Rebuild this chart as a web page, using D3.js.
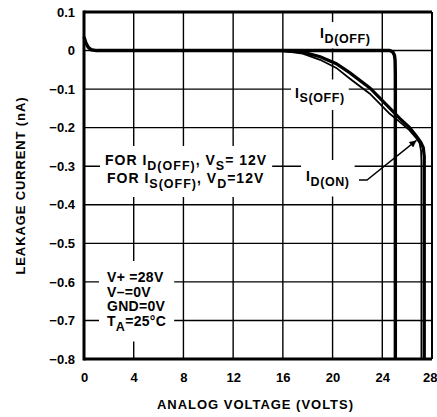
<!DOCTYPE html>
<html>
<head>
<meta charset="utf-8">
<script src="https://cdn.jsdelivr.net/npm/d3@7"></script>
<style>
  body { margin: 0; background: #fff; }
  text { font-family: "Liberation Sans", Arial, sans-serif; fill: #000; }
</style>
</head>
<body>
<div id="chart"></div>
<script>
// axis ticks
const xTicks = [0, 4, 8, 12, 16, 20, 24, 28]
const yTicks = [0.1, 0, -0.1, -0.2, -0.3, -0.4, -0.5, -0.6, -0.7, -0.8]

// I_D(OFF)
const idOffV = [0, 0.15, 0.35, 0.6, 1.0, 8, 16, 24.6, 24.85, 24.98, 25.03, 25.05, 25.05]
const idOffI = [0.035, 0.02, 0.008, 0.002, 0, 0, 0, 0, -0.004, -0.012, -0.025, -0.06, -0.8]

// I_D(ON)
const idOnV = [12, 15.8, 17.0, 17.6, 19.0, 20.3, 21.4, 23.0, 24.6, 25.4, 26.2, 26.75, 27.1, 27.3, 27.38, 27.38]
const idOnI = [0, 0, -0.002, -0.004, -0.016, -0.034, -0.058, -0.097, -0.149, -0.176, -0.2, -0.222, -0.238, -0.252, -0.275, -0.8]

// I_S(OFF)
const isOffV = [12, 15.8, 17.6, 19.0, 20.3, 21.4, 23.0, 24.6, 25.4, 26.2, 26.75, 27.0, 27.12, 27.15, 27.15]
const isOffI = [0, 0, -0.008, -0.024, -0.045, -0.073, -0.112, -0.164, -0.185, -0.207, -0.228, -0.24, -0.26, -0.29, -0.8]

const W = 437, H = 417

const svg = d3.select('#chart')
  .append('svg')
  .attr('width', W)
  .attr('height', H)

const x = d3.scaleLinear().domain([0, 28]).range([84, 432])
const y = d3.scaleLinear().domain([-0.8, 0.1]).range([359, 12])

// grid
svg.append('g')
  .selectAll('line')
  .data(xTicks.slice(1, -1))
  .enter()
  .append('line')
  .attr('x1', d => x(d)).attr('x2', d => x(d))
  .attr('y1', y(0.1)).attr('y2', y(-0.8))
  .attr('stroke', '#000').attr('stroke-width', 1.4)

svg.append('g')
  .selectAll('line')
  .data(yTicks.slice(1, -1))
  .enter()
  .append('line')
  .attr('x1', x(0)).attr('x2', x(28))
  .attr('y1', d => y(d)).attr('y2', d => y(d))
  .attr('stroke', '#000').attr('stroke-width', 1.4)

// white boxes behind annotations go here
const bg = svg.append('g')

// curves
const line = d3.line().x(d => x(d[0])).y(d => y(d[1]))
const zip = (a, b) => a.map((v, i) => [v, b[i]])

svg.append('path')
  .attr('d', line(zip(isOffV, isOffI)))
  .attr('fill', 'none').attr('stroke', '#000').attr('stroke-width', 1.8)

svg.append('path')
  .attr('d', line(zip(idOnV, idOnI)))
  .attr('fill', 'none').attr('stroke', '#000').attr('stroke-width', 3.2)

svg.append('path')
  .attr('d', line(zip(idOffV, idOffI)))
  .attr('fill', 'none').attr('stroke', '#000').attr('stroke-width', 3.4)
  .attr('stroke-linejoin', 'round')

// frame
const frame = svg.append('g').attr('stroke', '#000')
frame.append('line').attr('x1', x(0)).attr('x2', x(0)).attr('y1', y(0.1) - 1.5).attr('y2', y(-0.8) + 1.5).attr('stroke-width', 3)
frame.append('line').attr('x1', x(0)).attr('x2', x(28)).attr('y1', y(-0.8)).attr('y2', y(-0.8)).attr('stroke-width', 3)
frame.append('line').attr('x1', x(0)).attr('x2', x(28)).attr('y1', y(0.1)).attr('y2', y(0.1)).attr('stroke-width', 2.8)
frame.append('line').attr('x1', x(28)).attr('x2', x(28)).attr('y1', y(0.1)).attr('y2', y(-0.8)).attr('stroke-width', 2)

// axes
const yAxis = svg.append('g')
  .attr('transform', `translate(${x(0)},0)`)
  .call(d3.axisLeft(y).tickValues(yTicks).tickSize(0).tickPadding(9)
    .tickFormat(d => d === 0 ? '0' : d3.format('.1f')(d).replace('-', '\u2013')))
yAxis.select('.domain').remove()
yAxis.selectAll('text').attr('font-size', 13).attr('font-weight', 'bold')
  .attr('font-family', '"Liberation Sans", Arial, sans-serif').attr('fill', '#000')

const xAxis = svg.append('g')
  .attr('transform', `translate(0,${y(-0.8)})`)
  .call(d3.axisBottom(x).tickValues(xTicks).tickSize(0).tickPadding(14))
xAxis.select('.domain').remove()
xAxis.selectAll('text').attr('font-size', 13).attr('font-weight', 'bold')
  .attr('font-family', '"Liberation Sans", Arial, sans-serif').attr('fill', '#000')
// last label sits right on the page edge; keep it inside
xAxis.selectAll('text').filter(d => d === 28).attr('text-anchor', 'end').attr('dx', 5)

svg.append('text')
  .text('ANALOG VOLTAGE (VOLTS)')
  .attr('x', 255).attr('y', 409)
  .attr('text-anchor', 'middle')
  .attr('font-size', 13).attr('font-weight', 'bold')
  .attr('textLength', 196).attr('lengthAdjust', 'spacing')

svg.append('text')
  .text('LEAKAGE CURRENT (nA)')
  .attr('transform', 'translate(25,186) rotate(-90)')
  .attr('text-anchor', 'middle')
  .attr('font-size', 13).attr('font-weight', 'bold')
  .attr('textLength', 177).attr('lengthAdjust', 'spacing')

// annotations: [text, shift]
function label(x0, y0, parts, opts) {
  opts = opts || {}
  const t = svg.append('text')
    .attr('x', x0).attr('y', y0)
    .attr('font-size', opts.size || 14)
    .attr('font-weight', 'bold')
    .attr('letter-spacing', opts.ls == null ? 1 : opts.ls)
  let cur = 0
  parts.forEach(p => {
    const s = t.append('tspan').text(p[0])
    const sh = p[1] || 0
    if (sh !== cur) s.attr('dy', sh - cur)
    if (sh) s.attr('font-size', (opts.size || 14) - 1.5)
    cur = sh
  })
  return t
}

function box(nodes, pad) {
  let x0 = Infinity, y0 = Infinity, x1 = -Infinity, y1 = -Infinity
  nodes.forEach(n => {
    const b = n.node().getBBox()
    x0 = Math.min(x0, b.x); y0 = Math.min(y0, b.y)
    x1 = Math.max(x1, b.x + b.width); y1 = Math.max(y1, b.y + b.height)
  })
  bg.append('rect')
    .attr('x', x0 - pad[0]).attr('y', y0 - pad[1])
    .attr('width', x1 - x0 + 2 * pad[0]).attr('height', y1 - y0 + 2 * pad[1])
    .attr('fill', '#fff')
}

const a1 = label(320, 38, [['I'], ['D(OFF)', 4.5]], { ls: 0.6 })
box([a1], [3, 3])

const a2 = label(295, 97.5, [['I'], ['S(OFF)', 4.5]], { ls: 0.6 })
box([a2], [4, 5])

const f1 = label(105, 165, [['FOR I'], ['D(OFF)', 5], [', V'], ['S', 5], ['= 12V']])
const f2 = label(107, 183, [['FOR I'], ['S(OFF)', 5], [', V'], ['D', 5], ['=12V']])
box([f1, f2], [5, 6])

const g1 = label(107, 282, [['V+ =28V']], { ls: 0.3 })
const g2 = label(107, 296.5, [['V\u2013=0V']], { ls: 0.3 })
const g3 = label(107, 311, [['GND=0V']], { ls: 0.3 })
const g4 = label(107, 325.5, [['T'], ['A', 5], ['=25\u00b0C']], { ls: 0.3 })
box([g1, g2, g3, g4], [8, 8])

const o1 = label(306, 181, [['I'], ['D(ON)', 4.5]], { ls: 0.6 })
box([o1], [5, 8])

// leader arrow to I_D(ON)
svg.append('defs').append('marker')
  .attr('id', 'ah').attr('viewBox', '0 0 10 10')
  .attr('refX', 10).attr('refY', 5)
  .attr('markerWidth', 9).attr('markerHeight', 7)
  .attr('markerUnits', 'userSpaceOnUse')
  .attr('orient', 'auto')
  .append('path').attr('d', 'M0,0L10,5L0,10Z').attr('fill', '#000')

svg.append('path')
  .attr('d', d3.line()([[359, 180], [367, 180], [x(26.75), y(-0.233)]]))
  .attr('fill', 'none').attr('stroke', '#000').attr('stroke-width', 1.4)
  .attr('marker-end', 'url(#ah)')
</script>
</body>
</html>
